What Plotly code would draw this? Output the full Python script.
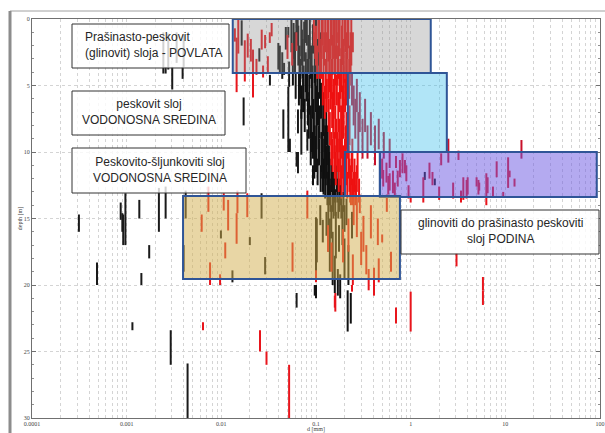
import plotly.graph_objects as go

# ---------------- data: vertical segments (d [mm], top depth [m], bottom depth [m]) ----------------
black_left = [
    (3.13e-4, 14.7, 16.0), (4.86e-4, 18.3, 20.0), (8.65e-4, 13.8, 15.1), (9.0e-4, 14.6, 16.0),
    (9.2e-4, 14.7, 17.0), (9.7e-4, 13.1, 17.0), (1.15e-3, 22.8, 23.4), (1.36e-3, 13.6, 15.0),
    (1.43e-3, 19.1, 20.0), (1.73e-3, 17.0, 18.0), (2.19e-3, 12.7, 16.0), (2.44e-3, 1.0, 4.1),
    (2.58e-3, 3.6, 4.1), (2.58e-3, 12.6, 15.0), (2.75e-3, 1.1, 3.8), (2.92e-3, 23.4, 26.0),
    (3.03e-3, 3.6, 5.3), (3.37e-3, 1.0, 3.3), (3.9e-3, 3.6, 4.5), (4.0e-3, 1.2, 3.6),
    (4.0e-3, 17.0, 19.0), (4.2e-3, 12.9, 15.0), (4.4e-3, 25.9, 30.0), (9.9e-3, 15.9, 16.5),
    (0.0131, 18.9, 19.8), (0.020, 16.4, 17.0), (0.0266, 13.1, 15.0), (0.029, 17.9, 19.2),
    (0.0624, 20.6, 21.7),
]
black_upper = [
    (0.0164, 0.1, 2.0), (0.0172, 5.9, 8.0), (0.0252, 2.2, 3.2), (0.0326, 4.2, 5.0),
    (0.040, 1.8, 3.8), (0.0415, 2.0, 4.0), (0.044, 2.5, 4.5), (0.046, 3.3, 4.2),
    (0.048, 0.6, 2.3), (0.051, 0.6, 1.4), (0.052, 3.2, 5.1), (0.0452, 6.8, 9.0),
    (0.051, 5.1, 10.0), (0.0645, 6.8, 8.6), (0.0624, 10.0, 11.1), (0.0645, 10.0, 11.6),
    (0.070, 6.8, 10.2), (0.081, 8.3, 9.9), (0.053, 9.0, 10.0),
]
black_band = [
    (0.055, 0.0, 2.5), (0.058, 0.3, 3.0), (0.060, 1.0, 4.0), (0.062, 0.0, 1.5), (0.065, 0.5, 3.5),
    (0.067, 2.0, 5.0), (0.070, 0.0, 2.8), (0.072, 1.5, 4.5), (0.075, 0.2, 3.2), (0.078, 2.5, 5.5),
    (0.080, 0.0, 2.0), (0.083, 1.2, 4.0), (0.086, 0.0, 3.0), (0.090, 2.0, 5.2), (0.093, 0.4, 2.6),
    (0.097, 1.5, 4.8), (0.100, 0.0, 2.2), (0.104, 2.6, 5.6), (0.108, 0.0, 3.5), (0.112, 1.0, 3.0),
    (0.066, 4.0, 6.5), (0.070, 5.0, 7.5), (0.073, 4.5, 7.0), (0.076, 6.0, 8.5), (0.079, 4.0, 6.2),
    (0.082, 5.5, 8.0), (0.085, 4.2, 7.2), (0.088, 6.5, 9.0), (0.091, 5.0, 7.5), (0.094, 6.0, 9.5),
    (0.098, 4.5, 7.0), (0.101, 7.0, 9.8), (0.105, 5.5, 8.0), (0.109, 6.5, 9.0), (0.113, 4.8, 7.5),
    (0.117, 7.5, 10.0), (0.121, 6.0, 8.8), (0.125, 8.0, 10.5),
    (0.088, 9.0, 11.0), (0.092, 8.5, 10.5), (0.096, 10.0, 12.0), (0.100, 8.8, 11.5), (0.104, 10.5, 12.5),
    (0.108, 9.0, 11.0), (0.112, 11.0, 13.0), (0.116, 9.5, 12.0), (0.120, 10.5, 13.2), (0.125, 11.5, 13.5),
    (0.130, 9.5, 12.0), (0.135, 11.0, 13.8), (0.140, 12.0, 14.0), (0.145, 10.5, 13.0), (0.150, 12.5, 14.5),
    (0.155, 11.5, 13.8), (0.160, 12.8, 14.8), (0.168, 12.0, 13.8), (0.176, 12.5, 14.5), (0.185, 13.0, 15.0),
]
black_band_fill = [
    (0.057, 2.5, 5.0), (0.061, 4.0, 6.0), (0.064, 0.0, 2.0), (0.068, 3.0, 6.0), (0.071, 0.8, 3.5),
    (0.074, 3.5, 6.5), (0.077, 0.0, 1.8), (0.081, 3.0, 5.8), (0.084, 6.0, 9.0), (0.087, 2.0, 4.5),
    (0.089, 7.5, 10.0), (0.092, 3.5, 6.0), (0.095, 7.0, 10.5), (0.099, 2.5, 5.0), (0.102, 5.0, 8.0),
    (0.106, 8.0, 11.0), (0.110, 3.5, 6.0), (0.114, 8.5, 11.5), (0.118, 10.5, 13.0), (0.122, 9.0, 12.0),
    (0.127, 10.0, 12.5), (0.132, 11.5, 14.0), (0.137, 9.5, 11.5), (0.142, 12.5, 14.5), (0.148, 11.0, 13.0),
    (0.153, 13.0, 15.0), (0.165, 11.0, 13.0), (0.172, 13.5, 15.0), (0.180, 12.0, 14.0), (0.195, 13.0, 14.5),
    (0.200, 14.0, 16.0), (0.107, 0.0, 1.5), (0.103, 1.5, 3.5), (0.097, 8.0, 10.0), (0.093, 11.0, 12.5),
    (0.119, 5.5, 8.0), (0.123, 8.5, 10.5), (0.128, 7.0, 9.5), (0.133, 8.0, 11.0), (0.138, 10.0, 12.5),
]
black_lower = [
    (0.100, 14.9, 19.1), (0.102, 15.0, 18.3), (0.111, 14.0, 15.5), (0.118, 15.1, 16.8), (0.129, 14.5, 16.3),
    (0.135, 13.5, 17.5), (0.140, 15.0, 19.0), (0.145, 14.0, 16.5), (0.150, 16.0, 20.0), (0.158, 17.8, 20.6),
    (0.162, 14.5, 18.0), (0.170, 18.8, 20.8), (0.175, 15.5, 17.5), (0.180, 19.2, 21.0), (0.190, 14.0, 17.0),
    (0.200, 16.5, 19.5), (0.210, 13.5, 15.5), (0.216, 20.4, 23.5), (0.233, 20.6, 22.9), (0.220, 17.0, 20.0),
    (0.240, 14.5, 16.5), (0.100, 20.0, 21.0), (0.097, 20.0, 20.8), (1.41, 11.5, 12.1), (1.8, 12.0, 12.5),
]
red_left = [
    (0.0139, 0.7, 1.7), (0.0145, 1.4, 5.5), (0.0151, 0.0, 2.6), (0.0177, 1.6, 4.7), (0.019, 1.1, 2.9),
    (0.0205, 1.5, 3.2), (0.0216, 2.3, 5.9), (0.0235, 3.0, 4.2), (0.0267, 0.8, 2.3), (0.0276, 3.5, 4.4),
    (0.029, 1.2, 2.2), (0.031, 2.8, 4.0), (0.0325, 1.0, 1.8), (0.034, 0.3, 1.3), (0.050, 1.2, 3.0),
    (0.056, 1.8, 3.5), (0.062, 1.0, 2.4),
]
red_band = [
    (0.095, 0.0, 2.0), (0.100, 0.5, 3.5), (0.106, 0.0, 1.5), (0.110, 1.5, 4.5), (0.115, 0.0, 3.0),
    (0.120, 2.0, 5.0), (0.125, 0.0, 2.5), (0.130, 1.0, 4.0), (0.135, 0.0, 3.2), (0.140, 2.5, 5.5),
    (0.145, 0.0, 2.0), (0.150, 1.2, 4.2), (0.155, 0.0, 3.0), (0.160, 2.0, 5.0), (0.166, 0.0, 1.8),
    (0.172, 1.0, 4.5), (0.178, 0.0, 2.8), (0.185, 2.2, 5.5), (0.190, 0.0, 3.5), (0.197, 1.5, 4.8),
    (0.205, 0.0, 2.5), (0.212, 1.0, 4.0), (0.220, 0.0, 2.2), (0.228, 2.0, 5.0), (0.236, 0.0, 3.5),
    (0.245, 1.0, 2.5),
    (0.118, 4.0, 6.5), (0.124, 5.0, 7.5), (0.130, 4.5, 7.0), (0.136, 6.0, 8.5), (0.142, 4.0, 6.8),
    (0.148, 5.5, 8.2), (0.154, 4.5, 7.5), (0.160, 6.5, 9.0), (0.166, 4.2, 6.5), (0.172, 5.5, 8.5),
    (0.178, 4.0, 7.0), (0.184, 6.5, 9.5), (0.190, 5.0, 7.5), (0.196, 6.0, 9.0), (0.203, 4.5, 7.0),
    (0.210, 7.0, 9.8), (0.218, 5.0, 8.0), (0.226, 6.5, 9.5),
    (0.150, 9.0, 11.5), (0.156, 8.5, 10.5), (0.162, 10.0, 12.5), (0.168, 8.5, 11.0), (0.174, 10.5, 13.0),
    (0.180, 9.0, 11.5), (0.186, 11.0, 13.5), (0.193, 9.5, 12.0), (0.200, 10.5, 13.2), (0.207, 8.0, 10.5),
    (0.214, 11.5, 13.5), (0.222, 9.5, 12.0), (0.230, 11.0, 13.8), (0.238, 10.0, 12.5), (0.246, 12.0, 14.0),
    (0.255, 10.5, 13.0), (0.265, 11.5, 13.5), (0.275, 10.0, 12.0), (0.285, 12.0, 13.8),
]
red_band_fill = [
    (0.098, 1.0, 3.0), (0.103, 2.0, 4.5), (0.108, 0.0, 2.5), (0.113, 2.5, 4.5), (0.118, 0.0, 2.0),
    (0.122, 1.0, 3.5), (0.127, 3.0, 6.0), (0.132, 0.0, 2.5), (0.138, 1.5, 4.0), (0.143, 0.0, 3.0),
    (0.147, 3.0, 6.0), (0.152, 0.0, 2.0), (0.158, 3.0, 6.5), (0.163, 0.0, 3.0), (0.169, 2.0, 5.0),
    (0.175, 0.0, 2.0), (0.181, 3.0, 6.0), (0.188, 0.5, 3.0), (0.194, 3.5, 6.5), (0.200, 0.0, 2.0),
    (0.208, 2.5, 5.5), (0.216, 0.0, 3.0), (0.224, 3.0, 6.0), (0.232, 1.0, 4.0), (0.140, 7.0, 9.5),
    (0.145, 8.5, 11.0), (0.152, 7.0, 9.0), (0.158, 9.5, 12.0), (0.164, 7.5, 10.0), (0.170, 9.0, 11.5),
    (0.176, 7.5, 10.0), (0.182, 10.0, 12.5), (0.188, 8.0, 10.5), (0.195, 10.5, 13.0), (0.202, 9.0, 11.5),
    (0.210, 10.0, 12.5), (0.218, 8.0, 10.5), (0.226, 10.5, 13.0), (0.234, 12.0, 14.0), (0.242, 9.0, 11.5),
    (0.250, 11.5, 13.5), (0.260, 12.5, 14.0), (0.270, 11.0, 13.0), (0.135, 4.0, 6.0), (0.210, 4.0, 6.5),
    (0.190, 7.0, 9.0),
]
red_blue = [
    (0.24, 4.0, 6.5), (0.25, 5.0, 8.0), (0.26, 6.0, 9.0), (0.27, 4.5, 7.0), (0.28, 7.0, 10.0),
    (0.29, 5.5, 8.5), (0.31, 7.5, 10.5), (0.33, 6.0, 8.5), (0.35, 8.0, 10.5), (0.38, 7.0, 9.5),
    (0.42, 8.0, 11.0), (0.46, 7.5, 9.8), (0.52, 8.5, 10.5), (0.60, 9.0, 11.2), (2.5, 9.0, 10.8),
    (14.8, 9.1, 10.5),
]
red_purple = [
    (0.513, 11.35, 12.6), (0.555, 10.8, 12.3), (0.60, 11.6, 12.9), (0.65, 11.4, 13.1), (0.68, 12.3, 13.4),
    (0.73, 11.4, 12.6), (0.77, 10.6, 11.9), (0.82, 10.1, 11.6), (0.87, 10.6, 11.6), (1.0, 13.4, 13.8),
    (1.36, 11.9, 13.8), (1.58, 10.8, 12.0), (1.7, 11.5, 12.5), (2.0, 12.6, 13.6), (2.1, 10.1, 11.0),
    (2.81, 12.3, 13.5), (3.2, 9.9, 10.6), (3.4, 12.9, 13.8), (3.6, 11.9, 13.6), (3.9, 12.1, 13.5),
    (4.0, 11.9, 13.2), (4.97, 11.9, 12.6), (5.2, 12.1, 13.2), (5.3, 12.3, 12.9), (6.3, 11.6, 14.0),
    (6.5, 11.9, 13.1), (7.4, 12.6, 13.4), (8.1, 10.7, 11.9), (9.5, 13.0, 13.4), (10.7, 10.4, 12.7),
    (11.1, 11.4, 11.9), (12.5, 12.0, 12.6), (0.50, 10.5, 12.0), (0.58, 11.8, 13.2), (0.70, 10.3, 11.2),
    (0.90, 11.0, 12.2), (0.95, 12.5, 13.5),
]
red_tan = [
    (6.2e-3, 14.7, 16.0), (7.3e-3, 12.6, 14.5), (7.6e-3, 18.3, 20.0), (9.7e-3, 19.2, 20.0),
    (0.0106, 13.1, 14.4), (0.011, 16.8, 18.0), (0.0118, 13.6, 15.9), (0.0148, 12.9, 14.6),
    (0.0145, 14.6, 16.9), (0.0188, 13.1, 14.9), (0.0565, 16.8, 19.0), (0.081, 12.9, 15.0),
    (0.146, 16.8, 19.0), (0.134, 15.5, 17.5), (0.160, 20.6, 22.0), (0.193, 15.8, 18.3),
    (0.245, 17.7, 20.0), (0.270, 13.4, 16.4), (0.290, 13.2, 14.6), (0.317, 14.8, 17.5),
    (0.340, 17.0, 19.2), (0.360, 18.8, 20.4), (0.410, 18.7, 20.8), (0.460, 18.0, 19.8),
    (0.500, 16.2, 16.8), (0.560, 13.2, 14.5), (0.700, 21.7, 22.9), (1.0, 20.5, 23.5),
    (0.100, 18.9, 19.8), (0.158, 20.8, 21.7), (0.240, 20.0, 20.5), (0.220, 15.0, 17.5),
    (0.300, 16.0, 18.5), (0.380, 14.0, 16.5), (0.450, 15.0, 17.0), (0.620, 17.5, 19.0),
    (0.250, 13.5, 15.5), (3.05, 17.6, 18.6), (5.8, 19.4, 20.4),
]
red_low = [
    (6.4e-3, 22.8, 23.4), (0.0256, 23.4, 25.0), (0.030, 25.0, 26.0), (0.052, 26.0, 30.0),
    (5.8, 20.4, 21.5),
]

# zones (d from, d to, depth from, depth to)
zone_povlata = (0.0132, 1.63, 0.0, 4.06)
zone_vodonosna = (0.217, 2.41, 4.06, 10.0)
zone_sljunak = (0.473, 92.5, 10.0, 13.38)
zone_sljunak_outline = (0.202, 0.473, 10.0, 13.3)
zone_podina = (0.00394, 0.77, 13.3, 19.55)

x_tick_vals = [0.0001, 0.001, 0.01, 0.1, 1, 10, 100]
x_tick_text = ["0.0001", "0.001", "0.01", "0.1", "1", "10", "100"]
y_tick_vals = [0, 5, 10, 15, 20, 25, 30]

labels = [
    "Prašinasto-peskovit<br>(glinovit) sloja - POVLATA",
    "peskovit sloj<br>VODONOSNA SREDINA",
    "Peskovito-šljunkoviti sloj<br>VODONOSNA SREDINA",
    "glinoviti do prašinasto peskoviti<br>sloj PODINA",
]

# ---------------- figure ----------------
W, H = 605, 433
L, R, T, B = 32, 5, 19, 15
PW, PH = W - L - R, H - T - B


def px(xp):
    return (xp - L) / PW


def py(yp):
    return (H - B - yp) / PH


def seg_xy(segs):
    xs, ys = [], []
    for d, t, b in segs:
        xs += [d, d, None]
        ys += [t, b, None]
    return xs, ys


fig = go.Figure()
for segs, col in [
    (black_left, "#1a1a1a"), (black_upper, "#1a1a1a"), (black_band, "#111111"),
    (black_band_fill, "#111111"), (black_lower, "#111111"),
    (red_left, "#e8151c"), (red_band, "#ee1111"), (red_band_fill, "#ee1111"), (red_blue, "#c8102a"),
    (red_purple, "#e8151c"), (red_tan, "#e8151c"), (red_low, "#e8151c"),
]:
    xs, ys = seg_xy(segs)
    fig.add_trace(go.Scatter(x=xs, y=ys, mode="lines", line=dict(color=col, width=2),
                             hoverinfo="skip", showlegend=False))

border = dict(color="#2f5597", width=2)
shapes = []
for z, fill in [
    (zone_povlata, "rgba(140,140,140,0.35)"),
    (zone_vodonosna, "rgba(60,190,235,0.40)"),
    (zone_sljunak, "rgba(105,85,225,0.50)"),
    (zone_podina, "rgba(209,173,75,0.50)"),
]:
    shapes.append(dict(type="rect", xref="x", yref="y", x0=z[0], x1=z[1], y0=z[2], y1=z[3],
                       fillcolor=fill, line=border, layer="above"))
z = zone_sljunak_outline
shapes.append(dict(type="rect", xref="x", yref="y", x0=z[0], x1=z[1], y0=z[2], y1=z[3],
                   fillcolor="rgba(0,0,0,0)", line=border, layer="above"))

# label boxes (pixel geometry)
boxes = [(72, 229, 24, 68), (72, 225, 91, 135), (72, 246, 148, 193), (401, 599, 210, 254)]
for x0, x1, y0, y1 in boxes:
    shapes.append(dict(type="rect", xref="paper", yref="paper", x0=px(x0), x1=px(x1), y0=py(y1), y1=py(y0),
                       fillcolor="rgba(255,255,255,0.8)", line=dict(color="#333333", width=1), layer="above"))

# outer frame of the picture
shapes.append(dict(type="line", xref="paper", yref="paper", x0=px(10), x1=px(605), y0=py(11), y1=py(11),
                   line=dict(color="#a0a0a0", width=1)))
shapes.append(dict(type="line", xref="paper", yref="paper", x0=px(10), x1=px(10), y0=py(11), y1=py(433),
                   line=dict(color="#8c8c8c", width=3)))

font_lbl = dict(family="Liberation Sans, Arial, sans-serif", size=12, color="#262626")
annotations = [
    dict(text=labels[0], x=px(83), y=py(45), xanchor="left", align="left"),
    dict(text=labels[1], x=px(148.5), y=py(112), xanchor="center", align="center"),
    dict(text=labels[2], x=px(160), y=py(170), xanchor="center", align="center"),
    dict(text=labels[3], x=px(500), y=py(231), xanchor="center", align="center"),
]
for a in annotations:
    a.update(xref="paper", yref="paper", yanchor="middle", showarrow=False, font=font_lbl)

grid_vals = [m * 10 ** e for e in range(-4, 2) for m in range(1, 10)] + [100]
grid_text = []
for v in grid_vals:
    lab = ""
    for tv, tt in zip(x_tick_vals, x_tick_text):
        if abs(v - tv) < tv * 1e-6:
            lab = tt
    grid_text.append(lab)

tick_font = dict(family="Liberation Serif, Times New Roman, serif", size=6, color="#444444")
grid_col = "#d4d4d4"

fig.update_layout(
    width=W, height=H,
    margin=dict(l=L, r=R, t=T, b=B, autoexpand=False),
    paper_bgcolor="white", plot_bgcolor="white",
    shapes=shapes, annotations=annotations,
    xaxis=dict(type="log", range=[-4, 2], tickvals=grid_vals, ticktext=grid_text,
               showgrid=True, gridcolor=grid_col, griddash="dot", gridwidth=1,
               showline=True, linecolor="#707070", linewidth=1, mirror=True,
               ticks="", tickfont=tick_font, zeroline=False,
               title=dict(text="d [mm]", font=tick_font, standoff=1)),
    yaxis=dict(range=[30, 0], tickvals=y_tick_vals, ticktext=[str(v) for v in y_tick_vals],
               showgrid=True, gridcolor=grid_col, griddash="dot", gridwidth=1,
               showline=True, linecolor="#707070", linewidth=1, mirror="ticks",
               ticks="inside", ticklen=4, tickcolor="#707070", tickfont=tick_font, zeroline=False,
               minor=dict(dtick=1, ticks="inside", ticklen=2, tickcolor="#909090", showgrid=False),
               title=dict(text="depth [m]", font=tick_font, standoff=0)),
)

fig.write_html("out.html", config={"displayModeBar": False, "staticPlot": True},
               post_script="document.body.style.margin='0';document.body.style.overflow='hidden';")
